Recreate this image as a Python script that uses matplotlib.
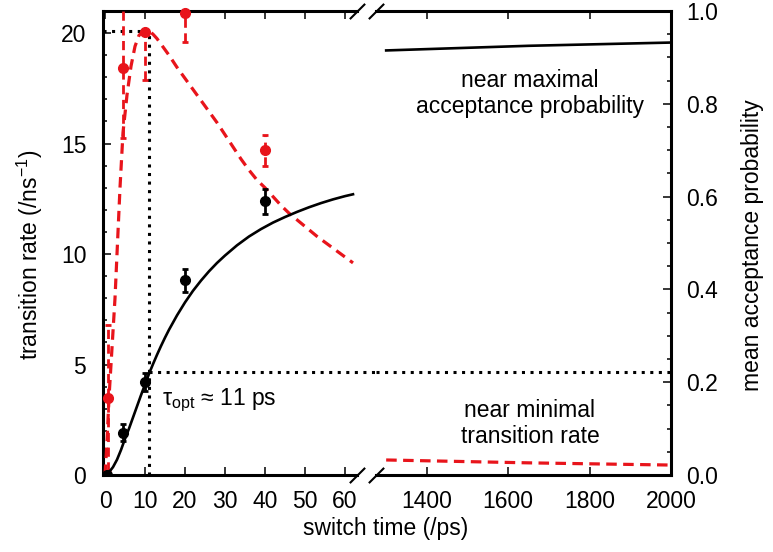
import matplotlib
matplotlib.use("Agg")
import matplotlib.pyplot as plt
from matplotlib.ticker import MultipleLocator, FormatStrFormatter, FixedLocator

plt.rcParams['font.family'] = ['Liberation Sans', 'DejaVu Sans']
plt.rcParams['mathtext.fontset'] = 'custom'
plt.rcParams['mathtext.rm'] = 'Liberation Sans'
plt.rcParams['mathtext.it'] = 'Liberation Sans:italic'
FS = 16.5
plt.rcParams['font.size'] = FS

# ---------------- data ----------------
# transition rate (left axis, /ns^-1), red
rate_x = [0.8, 4.6, 10, 20, 40]
rate_y = [3.5, 18.4, 20.06, 20.9, 14.7]
rate_err_lo = [3.3, 3.15, 2.2, 1.3, 0.7]
rate_err_hi = [3.3, 3.2, 0.05, 1.3, 0.7]

# acceptance probability (right axis), black
acc_x = [0.4, 4.6, 10, 20, 40]
acc_y = [0.0, 0.091, 0.20, 0.42, 0.59]
acc_err = [0.005, 0.018, 0.02, 0.025, 0.027]

# fitted curves, short switch times
curve_acc_x = [0, 1, 2, 3, 4, 5, 6, 7, 8, 9, 10, 11, 12, 13, 14, 15, 16, 18, 20, 22,
               24, 26, 28, 30, 33, 36, 39, 42, 45, 48, 51, 54, 57, 60, 62]
curve_acc_y = [0.0, 0.006, 0.017, 0.033, 0.054, 0.078, 0.10, 0.124, 0.148, 0.172, 0.195,
               0.218, 0.239, 0.259, 0.278, 0.296, 0.313, 0.344, 0.372, 0.397, 0.419,
               0.439, 0.457, 0.473, 0.495, 0.514, 0.530, 0.544, 0.556, 0.567, 0.577,
               0.586, 0.594, 0.601, 0.605]
curve_rate_x = [0, 0.5, 1, 1.5, 2, 2.5, 3, 3.75, 4.5, 5.5, 6.5, 7.5, 8.5, 10, 11, 12, 13,
                14, 16, 18, 20, 22, 24, 26, 28, 30, 32, 34, 36, 38, 40, 42, 44, 46, 48,
                50, 53, 56, 59, 62]
curve_rate_y = [0, 1.5, 3.5, 5.0, 6.5, 8.0, 10.0, 13.0, 15.5, 17.2, 18.5, 19.4, 19.9,
                20.15, 20.1, 19.95, 19.75, 19.5, 19.0, 18.45, 17.95, 17.45, 16.95, 16.45,
                15.95, 15.4, 14.85, 14.3, 13.8, 13.35, 13.0, 12.6, 12.2, 11.85, 11.55,
                11.25, 10.8, 10.4, 10.0, 9.6]

# long switch times
long_x = [1300, 1650, 2000]
long_acc = [0.915, 0.925, 0.932]
long_rate = [0.68, 0.55, 0.45]

tau_opt = 11
rate_opt = 20.1
acc_opt = 0.223

left_xticks = [0, 10, 20, 30, 40, 50, 60]
right_xticks = [1400, 1600, 1800, 2000]

RED = '#e8141b'
W, H = 773, 552
fig = plt.figure(figsize=(W / 100, H / 100), dpi=100)
bottom = (H - 475) / H
height = (475 - 11) / H
axL = fig.add_axes([103 / W, bottom, (357 - 103) / W, height])
axR = fig.add_axes([376 / W, bottom, (671 - 376) / W, height])
axL2 = axL.twinx()
axR2 = axR.twinx()

for a in (axL2, axR2):
    a.axis('off')

axL.set_xlim(-0.5, 63)
axL.set_ylim(0, 21)
axL2.set_ylim(0, 1)
axL2.set_xlim(-0.5, 63)
axR.set_xlim(1275, 2000)
axR.set_ylim(0, 1)
axR2.set_ylim(0, 21)
axR2.set_xlim(1275, 2000)

spw = 2.2
for a in (axL, axR):
    for s in a.spines.values():
        s.set_linewidth(spw)
axL.spines['right'].set_visible(False)
axR.spines['left'].set_visible(False)

# ticks
axL.xaxis.set_major_locator(FixedLocator(left_xticks))
axR.xaxis.set_major_locator(FixedLocator(right_xticks))
axL.yaxis.set_major_locator(MultipleLocator(5))
axL.yaxis.set_minor_locator(MultipleLocator(1))
axR.yaxis.set_major_locator(MultipleLocator(0.2))
axR.yaxis.set_minor_locator(MultipleLocator(0.05))
axR.yaxis.set_major_formatter(FormatStrFormatter('%.1f'))
axR.yaxis.tick_right()
axL.tick_params(axis='both', which='major', direction='in', length=6, width=1.1,
                top=True, right=False, labelsize=FS)
axL.tick_params(axis='x', pad=11)
axL.tick_params(axis='y', pad=12)
axL.tick_params(axis='y', which='minor', direction='in', length=3, width=1.1, right=False)
axR.tick_params(axis='both', which='major', direction='in', length=6, width=1.1,
                top=True, left=False, right=True, labelsize=FS)
axR.tick_params(axis='x', pad=11)
axR.tick_params(axis='y', pad=11)
axR.tick_params(axis='y', which='minor', direction='in', length=3, width=1.1,
                left=False, right=True)

dash = (0, (3.3, 2.0))
dot = (0, (1, 1.8))

# guide lines
axL.plot([tau_opt, tau_opt], [0, rate_opt], color='k', lw=2.2, ls=dot,
         dash_capstyle='butt', zorder=1)
axL.plot([-0.5, tau_opt], [rate_opt, rate_opt], color='k', lw=2.2, ls=dot,
         dash_capstyle='butt', zorder=1)
axL2.plot([tau_opt, 67.75], [acc_opt, acc_opt], color='k', lw=2.2, ls=dot,
          dash_capstyle='butt', clip_on=False, zorder=1)
axR.axhline(acc_opt, color='k', lw=2.2, ls=dot, dash_capstyle='butt', zorder=1)

# curves
axL2.plot(curve_acc_x, curve_acc_y, color='k', lw=1.9, zorder=3)
axL.plot(curve_rate_x, curve_rate_y, color=RED, lw=2.3, ls=dash, zorder=3)
axR.plot(long_x, long_acc, color='k', lw=1.9, zorder=3)
axR2.plot(long_x, long_rate, color=RED, lw=2.3, ls=dash, zorder=3)

# data points
eb = axL.errorbar(rate_x, rate_y, yerr=[rate_err_lo, rate_err_hi], fmt='o', color=RED,
                  ms=7, capsize=2.5, elinewidth=2.0, capthick=2.0, zorder=5)
for lc in eb[2]:
    lc.set_linestyle((0, (3.3, 2.0)))
eb[0].set_clip_on(False)
eb[0].set_zorder(6)
eb2 = axL2.errorbar(acc_x, acc_y, yerr=acc_err, fmt='o', color='k', ms=7, capsize=2.5,
                    elinewidth=2.0, capthick=2.0, zorder=5)
eb2[0].set_zorder(6)

# break marks
mk = dict(marker=[(-1, -1), (1, 1)], markersize=11, linestyle='none', color='k',
          mec='k', mew=1.5, clip_on=False)
axL.plot([1, 1], [0, 1], transform=axL.transAxes, **mk)
axR.plot([0, 0], [0, 1], transform=axR.transAxes, **mk)

# texts
axR.text(0.522, 0.822, 'near maximal\nacceptance probability', transform=axR.transAxes,
         ha='center', va='center', fontsize=FS)
axR.text(0.522, 0.111, 'near minimal\ntransition rate', transform=axR.transAxes,
         ha='center', va='center', fontsize=FS)
axL.text(14.2, 3.17, r'$\mathregular{\tau_{opt}}$ ≈ 11 ps', ha='left', va='baseline',
         fontsize=FS)

fig.text(30 / W, 1 - 255 / H, r'transition rate (/ns$^{\mathregular{-1}}$)', rotation=90,
         ha='center', va='center', fontsize=FS)
fig.text(752 / W, 1 - 245 / H, 'mean acceptance probability', rotation=90,
         ha='center', va='center', fontsize=FS)
fig.text(386 / W, 1 - 528 / H, 'switch time (/ps)', ha='center', va='center', fontsize=FS)

fig.savefig('out.png', dpi=100)
